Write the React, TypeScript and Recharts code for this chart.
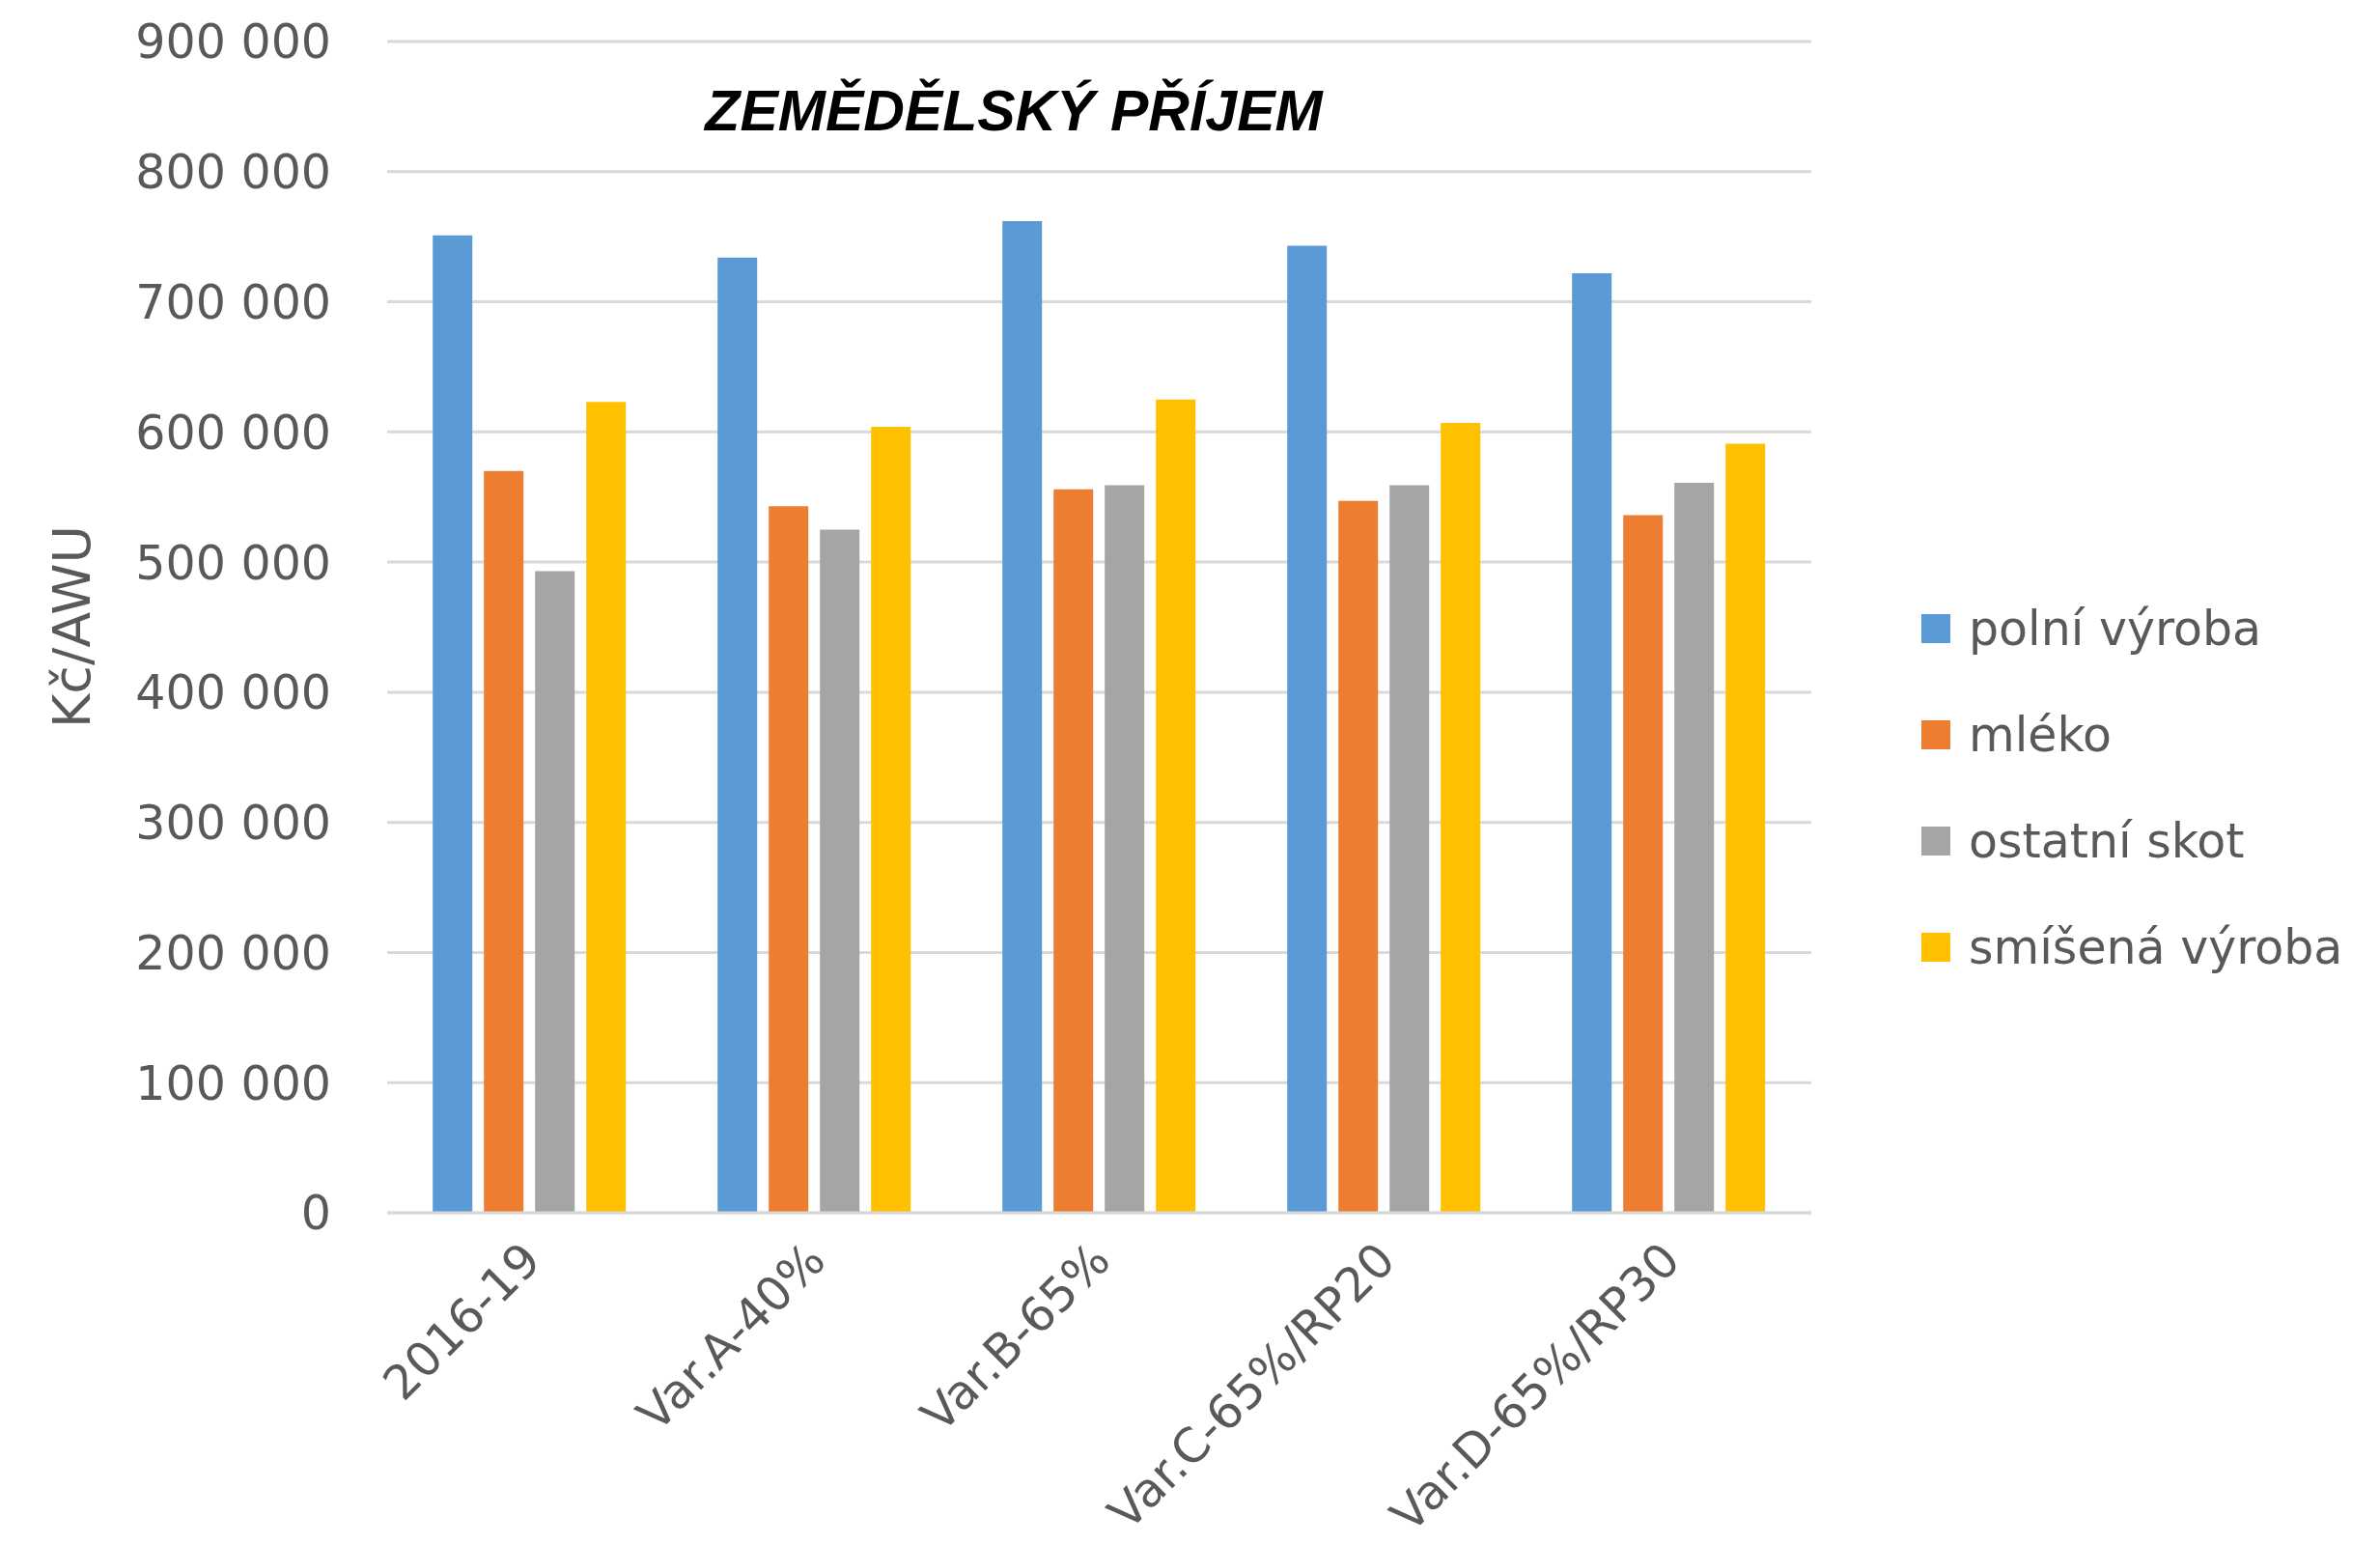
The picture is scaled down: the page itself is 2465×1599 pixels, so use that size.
import { BarChart, Bar, XAxis, YAxis, CartesianGrid } from 'recharts';

const categories = ['2016-19', 'Var.A-40%', 'Var.B-65%', 'Var.C-65%/RP20', 'Var.D-65%/RP30'];
const polniVyroba = [751000, 734000, 762000, 743000, 722000];
const mleko = [570000, 543000, 556000, 547000, 536000];
const ostatniSkot = [493000, 525000, 559000, 559000, 561000];
const smisenaVyroba = [623000, 604000, 625000, 607000, 591000];
const yTicks = [0, 100000, 200000, 300000, 400000, 500000, 600000, 700000, 800000, 900000];

const series = [
  { key: 'polni', name: 'polní výroba', color: '#5B9BD5', values: polniVyroba },
  { key: 'mleko', name: 'mléko', color: '#ED7D31', values: mleko },
  { key: 'skot', name: 'ostatní skot', color: '#A5A5A5', values: ostatniSkot },
  { key: 'smisena', name: 'smíšená výroba', color: '#FFC000', values: smisenaVyroba },
];

const data = categories.map((c, i) => {
  const row: Record<string, string | number> = { name: c };
  series.forEach((s) => (row[s.key] = s.values[i]));
  return row;
});

const FONT = '"DejaVu Sans", sans-serif';
const TEXT = '#595959';

const fmt = (v: number) => String(v).replace(/\B(?=(\d{3})+(?!\d))/g, ' ');

function XTick({ x, y, payload }: any) {
  return (
    <text
      x={x + 14}
      y={y + 44}
      transform={`rotate(-45, ${x + 14}, ${y + 44})`}
      textAnchor="end"
      fill={TEXT}
      fontSize={49}
      fontFamily={FONT}
    >
      {payload.value}
    </text>
  );
}

export default function App() {
  return (
    <div style={{ position: 'relative', width: 2465, height: 1599, background: '#fff' }}>
      <style>{`body{margin:0}`}</style>
      <BarChart
        width={2465}
        height={1599}
        data={data}
        margin={{ top: 43, right: 589, bottom: 0, left: 0 }}
        barCategoryGap="16%"
        barGap={12}
      >
        <CartesianGrid vertical={false} stroke="#D9D9D9" strokeWidth={3} />
        <XAxis
          dataKey="name"
          axisLine={{ stroke: '#D9D9D9', strokeWidth: 3 }}
          tickLine={false}
          tick={<XTick />}
          interval={0}
          height={343}
        />
        <YAxis
          width={401}
          domain={[0, 900000]}
          ticks={yTicks}
          interval={0}
          axisLine={false}
          tickLine={false}
          tickSize={0}
          tickMargin={58}
          tickFormatter={fmt}
          tick={{ fill: TEXT, fontSize: 49, fontFamily: FONT }}
        />
        {series.map((s) => (
          <Bar key={s.key} dataKey={s.key} name={s.name} fill={s.color} isAnimationActive={false} />
        ))}
      </BarChart>
      <div style={{ position: 'absolute', left: 1990, top: 596, fontFamily: FONT, fontSize: 49, color: TEXT }}>
        {series.map((s) => (
          <div key={s.key} style={{ display: 'flex', alignItems: 'center', height: 110, whiteSpace: 'nowrap' }}>
            <div style={{ width: 30, height: 30, background: s.color, marginRight: 19 }} />
            <span>{s.name}</span>
          </div>
        ))}
      </div>
      <div
        style={{
          position: 'absolute',
          left: 1050,
          top: 115,
          transform: 'translate(-50%, -50%)',
          fontFamily: '"Liberation Sans", Arial, sans-serif',
          fontWeight: 'bold',
          fontStyle: 'italic',
          fontSize: 59,
          color: '#000',
          whiteSpace: 'nowrap',
        }}
      >
        ZEMĚDĚLSKÝ PŘÍJEM
      </div>
      <div
        style={{
          position: 'absolute',
          left: 74,
          top: 649,
          transform: 'translate(-50%, -50%) rotate(-90deg)',
          fontFamily: FONT,
          fontSize: 54,
          color: TEXT,
          whiteSpace: 'nowrap',
        }}
      >
        Kč/AWU
      </div>
    </div>
  );
}
